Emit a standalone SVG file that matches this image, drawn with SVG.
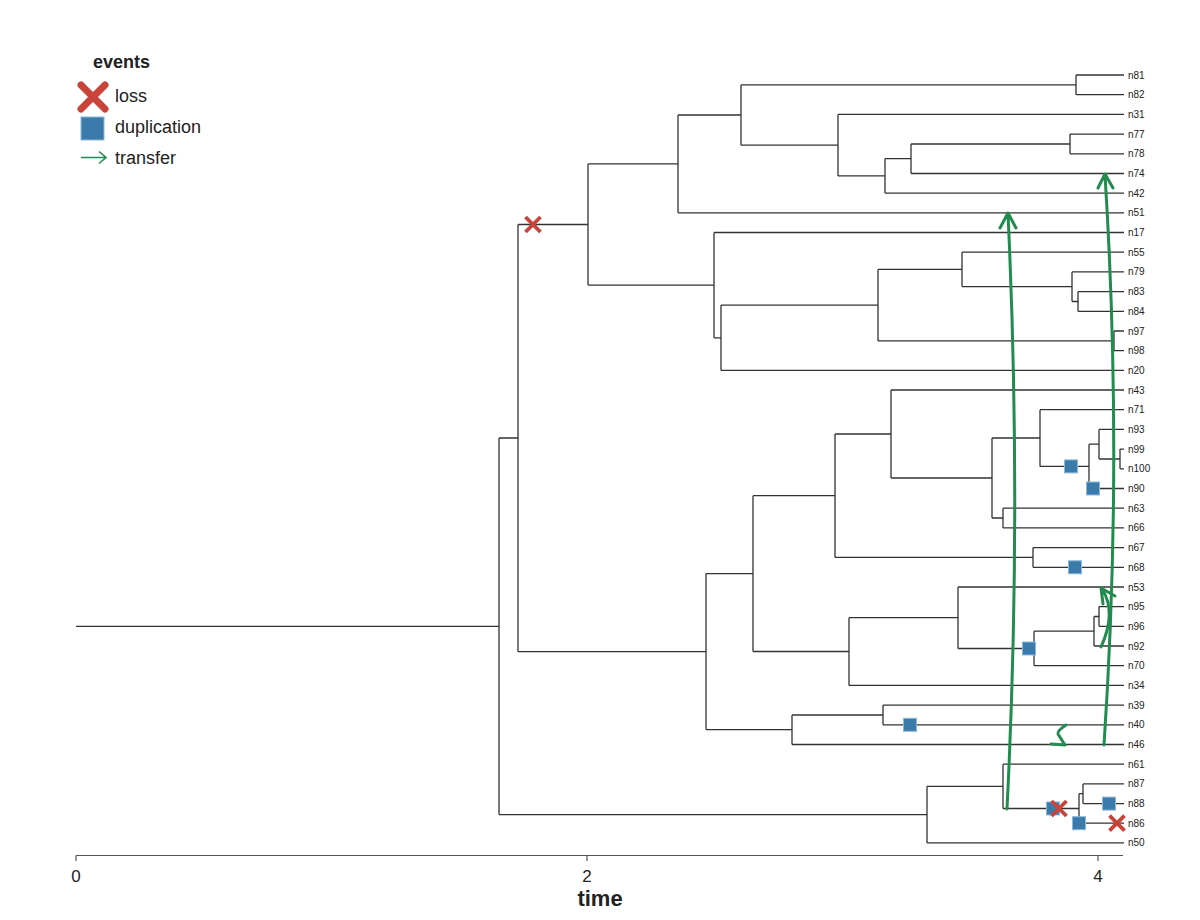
<svg xmlns="http://www.w3.org/2000/svg" xmlns:xlink="http://www.w3.org/1999/xlink" width="1200" height="920" viewBox="0 0 1200 920">
<style>
.br{fill:none;stroke:#333;stroke-width:1.3}
.lbl{font-family:"Liberation Sans",Arial,sans-serif;font-size:10px;fill:#222;dominant-baseline:central}
.tr{fill:none;stroke:#228b4f;stroke-width:3;stroke-linecap:round;stroke-linejoin:round}
.dup{fill:#3b7bab;stroke:#8cb9d9;stroke-width:1}
.loss{fill:none;stroke:#c8433a;stroke-width:3.8}
.leg{font-family:"Liberation Sans",Arial,sans-serif;font-size:18px;fill:#222}
.ax{font-family:"Liberation Sans",Arial,sans-serif;font-size:17px;fill:#222;text-anchor:middle}
</style>
<defs>
<rect id="dup" x="-6.5" y="-6.5" width="13" height="13" class="dup"/>
<path id="loss" d="M-7.5,-7.5 L7.5,7.5 M7.5,-7.5 L-7.5,7.5" class="loss"/>
</defs>
<rect width="1200" height="920" fill="#fff"/>

<g id="legend">
<text x="93" y="68" class="leg" style="font-weight:bold">events</text>
<path d="M81,85 L105,109 M105,85 L81,109" fill="none" stroke="#c8433a" stroke-width="7" stroke-linecap="round"/>
<text x="115" y="102" class="leg">loss</text>
<rect x="81" y="117" width="23" height="23" fill="#3b7bab" stroke="#8cb9d9" stroke-width="1"/>
<text x="115" y="133" class="leg">duplication</text>
<path d="M81,157.5 H106 M99,151.5 L106,157.5 L99,163.5" fill="none" stroke="#228b4f" stroke-width="1.6"/>
<text x="115" y="164" class="leg">transfer</text>
</g>

<g id="branches" class="br">
<path d="M76,626.3 H499"/>
<path d="M499,438 V814.6 M499,438 H518 M499,814.6 H927"/>
<path d="M518,224.5 V651.7 M518,224.5 H588 M518,651.7 H706"/>
<path d="M588,163.9 V285.1 M588,163.9 H678 M588,285.1 H714"/>
<path d="M678,115 V212.8 M678,115 H741 M678,212.8 H1124"/>
<path d="M741,84.85 V145.2 M741,84.85 H1076 M741,145.2 H838"/>
<path d="M1076,75 V94.7 M1076,75 H1124 M1076,94.7 H1124"/>
<path d="M838,114.4 V175.9 M838,114.4 H1124 M838,175.9 H885"/>
<path d="M885,158.7 V193.1 M885,158.7 H911 M885,193.1 H1124"/>
<path d="M911,144 V173.5 M911,144 H1070 M911,173.5 H1124"/>
<path d="M1070,134.1 V153.8 M1070,134.1 H1124 M1070,153.8 H1124"/>
<path d="M714,232.5 V337.8 M714,232.5 H1124 M714,337.8 H721"/>
<path d="M721,305.1 V370.4 M721,305.1 H878 M721,370.4 H1124"/>
<path d="M878,269.4 V340.9 M878,269.4 H962 M878,340.9 H1114"/>
<path d="M962,252.2 V286.7 M962,252.2 H1124 M962,286.7 H1072"/>
<path d="M1072,271.9 V301.5 M1072,271.9 H1124 M1072,301.5 H1078"/>
<path d="M1078,291.6 V311.3 M1078,291.6 H1124 M1078,311.3 H1124"/>
<path d="M1114,331 V350.7 M1114,331 H1124 M1114,350.7 H1124"/>
<path d="M706,573.6 V729.7 M706,573.6 H753 M706,729.7 H792"/>
<path d="M753,495.7 V651.5 M753,495.7 H835 M753,651.5 H849"/>
<path d="M835,434 V557.4 M835,434 H891 M835,557.4 H1033"/>
<path d="M891,390 V478 M891,390 H1124 M891,478 H992"/>
<path d="M992,438 V518 M992,438 H1040 M992,518 H1003"/>
<path d="M1040,409.7 V466.4 M1040,409.7 H1124 M1040,466.4 H1089"/>
<path d="M1089,444.2 V488.5 M1089,444.2 H1099 M1089,488.5 H1124"/>
<path d="M1099,429.4 V459 M1099,429.4 H1124 M1099,459 H1120"/>
<path d="M1120,449.1 V468.8 M1120,449.1 H1124 M1120,468.8 H1124"/>
<path d="M1003,508.2 V527.9 M1003,508.2 H1124 M1003,527.9 H1124"/>
<path d="M1033,547.6 V567.3 M1033,547.6 H1124 M1033,567.3 H1124"/>
<path d="M849,617.7 V685.4 M849,617.7 H958 M849,685.4 H1124"/>
<path d="M958,587 V648.5 M958,587 H1124 M958,648.5 H1034"/>
<path d="M1034,631.2 V665.7 M1034,631.2 H1094 M1034,665.7 H1124"/>
<path d="M1094,616.5 V646 M1094,616.5 H1099 M1094,646 H1124"/>
<path d="M1099,606.6 V626.3 M1099,606.6 H1124 M1099,626.3 H1124"/>
<path d="M792,715 V744.5 M792,715 H883 M792,744.5 H1124"/>
<path d="M883,705.1 V724.8 M883,705.1 H1124 M883,724.8 H1124"/>
<path d="M927,786.3 V842.9 M927,786.3 H1003 M927,842.9 H1124"/>
<path d="M1003,764.2 V808.5 M1003,764.2 H1124 M1003,808.5 H1079"/>
<path d="M1079,793.7 V823.2 M1079,793.7 H1083 M1079,823.2 H1124"/>
<path d="M1083,783.9 V803.6 M1083,783.9 H1124 M1083,803.6 H1124"/>
</g>

<g id="leaves" class="lbl">
<g id="leaf-n81"><text x="1128" y="75">n81</text></g>
<g id="leaf-n82"><text x="1128" y="94.7">n82</text></g>
<g id="leaf-n31"><text x="1128" y="114.4">n31</text></g>
<g id="leaf-n77"><text x="1128" y="134.1">n77</text></g>
<g id="leaf-n78"><text x="1128" y="153.8">n78</text></g>
<g id="leaf-n74"><text x="1128" y="173.5">n74</text></g>
<g id="leaf-n42"><text x="1128" y="193.1">n42</text></g>
<g id="leaf-n51"><text x="1128" y="212.8">n51</text></g>
<g id="leaf-n17"><text x="1128" y="232.5">n17</text></g>
<g id="leaf-n55"><text x="1128" y="252.2">n55</text></g>
<g id="leaf-n79"><text x="1128" y="271.9">n79</text></g>
<g id="leaf-n83"><text x="1128" y="291.6">n83</text></g>
<g id="leaf-n84"><text x="1128" y="311.3">n84</text></g>
<g id="leaf-n97"><text x="1128" y="331">n97</text></g>
<g id="leaf-n98"><text x="1128" y="350.7">n98</text></g>
<g id="leaf-n20"><text x="1128" y="370.4">n20</text></g>
<g id="leaf-n43"><text x="1128" y="390">n43</text></g>
<g id="leaf-n71"><text x="1128" y="409.7">n71</text></g>
<g id="leaf-n93"><text x="1128" y="429.4">n93</text></g>
<g id="leaf-n99"><text x="1128" y="449.1">n99</text></g>
<g id="leaf-n100"><text x="1128" y="468.8">n100</text></g>
<g id="leaf-n90"><text x="1128" y="488.5">n90</text></g>
<g id="leaf-n63"><text x="1128" y="508.2">n63</text></g>
<g id="leaf-n66"><text x="1128" y="527.9">n66</text></g>
<g id="leaf-n67"><text x="1128" y="547.6">n67</text></g>
<g id="leaf-n68"><text x="1128" y="567.3">n68</text></g>
<g id="leaf-n53"><text x="1128" y="587">n53</text></g>
<g id="leaf-n95"><text x="1128" y="606.6">n95</text></g>
<g id="leaf-n96"><text x="1128" y="626.3">n96</text></g>
<g id="leaf-n92"><text x="1128" y="646">n92</text></g>
<g id="leaf-n70"><text x="1128" y="665.7">n70</text></g>
<g id="leaf-n34"><text x="1128" y="685.4">n34</text></g>
<g id="leaf-n39"><text x="1128" y="705.1">n39</text></g>
<g id="leaf-n40"><text x="1128" y="724.8">n40</text></g>
<g id="leaf-n46"><text x="1128" y="744.5">n46</text></g>
<g id="leaf-n61"><text x="1128" y="764.2">n61</text></g>
<g id="leaf-n87"><text x="1128" y="783.9">n87</text></g>
<g id="leaf-n88"><text x="1128" y="803.6">n88</text></g>
<g id="leaf-n86"><text x="1128" y="823.2">n86</text></g>
<g id="leaf-n50"><text x="1128" y="842.9">n50</text></g>
</g>

<g id="transfers" class="tr">
<path d="M1007,809 Q1022,511 1008,214 M1000,228 L1008,213 L1016,228"/>
<path d="M1104,745 Q1123,460 1105,175 M1098,188 L1105,174 L1113,188"/>
<path d="M1101,647 Q1117,612 1102,589 M1103,604 L1101,588 L1115,596"/>
<path d="M1066,725 Q1057,731 1058,734 L1065,745 L1051,744"/>
</g>

<g id="duplications">
<use xlink:href="#dup" x="1071" y="466.4"/>
<use xlink:href="#dup" x="1093" y="488.5"/>
<use xlink:href="#dup" x="1075" y="567.3"/>
<use xlink:href="#dup" x="1029" y="648.5"/>
<use xlink:href="#dup" x="910" y="724.8"/>
<use xlink:href="#dup" x="1053" y="808.5"/>
<use xlink:href="#dup" x="1109" y="803.6"/>
<use xlink:href="#dup" x="1079" y="823.2"/>
</g>

<g id="losses">
<use xlink:href="#loss" x="533" y="224.5"/>
<use xlink:href="#loss" x="1059" y="808.5"/>
<use xlink:href="#loss" x="1117" y="823.2"/>
</g>

<g id="axis">
<path d="M76,855.5 H1123 M76,855.5 V861 M587,855.5 V861 M1098,855.5 V861" fill="none" stroke="#555" stroke-width="1.2"/>
<text x="76" y="882" class="ax">0</text>
<text x="587" y="882" class="ax">2</text>
<text x="1098" y="882" class="ax">4</text>
<text x="600" y="906" class="ax" style="font-size:22px;font-weight:bold">time</text>
</g>
</svg>
